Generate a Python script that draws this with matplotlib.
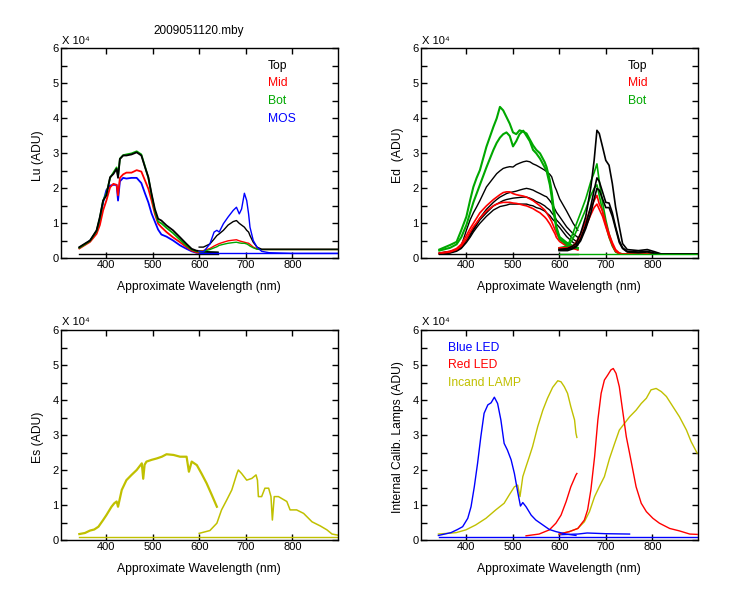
import numpy as np
import matplotlib
matplotlib.use('Agg')
import matplotlib.pyplot as plt
from matplotlib.ticker import MultipleLocator, FixedLocator

plt.rcParams['font.family'] = ['Liberation Sans', 'DejaVu Sans']
plt.rcParams['font.size'] = 8

BLK = 'k'
RED = '#ff0000'
GRN = '#00a800'
BLU = '#0000ff'
YEL = '#c0c000'

# ---- Lu panel (values in 1e4 ADU) ----
lu_wl1 = [343, 355, 366, 380, 387, 394, 401, 409, 416, 423, 426, 430, 437, 444, 455, 466, 476,
          484, 491, 498, 505, 512, 519, 530, 544, 559, 573, 584, 594, 605, 620, 640]
lu_top1 = [0.32, 0.42, 0.51, 0.8, 1.18, 1.65, 1.8, 2.32, 2.41, 2.56, 2.3, 2.84, 2.94, 2.94, 2.97, 3.03, 2.94,
           2.6, 2.32, 1.84, 1.41, 1.13, 1.08, 0.94, 0.8, 0.6, 0.41, 0.27, 0.22, 0.2, 0.18, 0.17]
lu_bot1 = [0.3, 0.4, 0.5, 0.78, 1.15, 1.65, 1.85, 2.3, 2.45, 2.6, 2.35, 2.85, 2.95, 2.97, 3.0, 3.06, 2.97,
           2.62, 2.3, 1.8, 1.35, 1.05, 1.0, 0.87, 0.72, 0.53, 0.36, 0.25, 0.2, 0.18, 0.17, 0.16]
lu_mid1 = [0.28, 0.38, 0.47, 0.7, 0.95, 1.37, 1.65, 2.03, 2.13, 2.1, 1.8, 2.3, 2.4, 2.45, 2.45, 2.52, 2.48,
           2.22, 1.99, 1.65, 1.27, 0.99, 0.89, 0.75, 0.6, 0.46, 0.32, 0.22, 0.17, 0.15, 0.14, 0.14]
lu_mos1 = [0.3, 0.4, 0.5, 0.75, 1.1, 1.6, 1.95, 2.08, 2.1, 2.1, 1.65, 2.2, 2.3, 2.28, 2.3, 2.3, 2.15,
           1.85, 1.6, 1.28, 1.05, 0.82, 0.68, 0.62, 0.51, 0.37, 0.27, 0.2, 0.16, 0.15, 0.14, 0.14]
lu_wl2 = [600, 609, 623, 632, 638, 643, 652, 662, 673, 680, 686, 691, 697, 702, 706, 709, 716, 724,
          734, 750, 774, 800, 850, 897]
lu_mos2 = [0.2, 0.18, 0.41, 0.75, 0.8, 0.75, 0.99, 1.18, 1.37, 1.46, 1.27, 1.41, 1.86, 1.65, 1.27, 0.89,
           0.51, 0.32, 0.2, 0.16, 0.15, 0.14, 0.14, 0.14]
lu_top2 = [0.32, 0.32, 0.41, 0.55, 0.65, 0.7, 0.8, 0.95, 1.05, 1.08, 1.0, 0.95, 0.89, 0.8, 0.75, 0.65,
           0.46, 0.32, 0.26, 0.26, 0.26, 0.26, 0.26, 0.26]
lu_mid2 = [0.2, 0.22, 0.28, 0.35, 0.39, 0.42, 0.46, 0.5, 0.52, 0.53, 0.5, 0.48, 0.46, 0.44, 0.43, 0.4,
           0.32, 0.27, 0.25, 0.25, 0.25, 0.25, 0.25, 0.25]
lu_bot2 = [0.2, 0.2, 0.25, 0.3, 0.33, 0.37, 0.4, 0.43, 0.45, 0.46, 0.44, 0.43, 0.43, 0.41, 0.38, 0.35,
           0.3, 0.26, 0.25, 0.25, 0.25, 0.25, 0.25, 0.25]

# ---- Ed panel ----
ed_wl1 = [343, 366, 380, 390, 401, 409, 416, 423, 430, 444, 459, 466, 473, 480, 487, 494, 501, 508,
          515, 523, 530, 537, 544, 551, 559, 569, 573, 580, 584, 587, 591, 594, 601, 616, 630, 640]
ed_bot1a = [0.25, 0.38, 0.47, 0.8, 1.19, 1.66, 2.04, 2.3, 2.52, 3.19, 3.76, 4.0, 4.33, 4.23, 4.04, 3.85,
            3.6, 3.55, 3.66, 3.62, 3.57, 3.4, 3.23, 3.1, 3.0, 2.75, 2.61, 2.23, 1.9, 1.57, 1.2, 0.9,
            0.61, 0.45, 0.35, 0.3]
ed_bot1b = [0.22, 0.3, 0.4, 0.6, 0.95, 1.3, 1.6, 1.85, 2.1, 2.6, 3.1, 3.3, 3.45, 3.55, 3.6, 3.5,
            3.2, 3.35, 3.55, 3.65, 3.5, 3.35, 3.1, 3.0, 2.85, 2.6, 2.5, 2.1, 1.75, 1.4, 1.1, 0.85,
            0.55, 0.4, 0.32, 0.28]
ed_top1a = [0.15, 0.2, 0.25, 0.35, 0.8, 1.1, 1.3, 1.47, 1.65, 2.04, 2.3, 2.42, 2.5, 2.57, 2.6, 2.62,
            2.61, 2.68, 2.72, 2.76, 2.78, 2.76, 2.7, 2.66, 2.6, 2.52, 2.48, 2.4, 2.33, 2.2, 2.04, 1.95,
            1.7, 1.35, 1.0, 0.8]
ed_top1b = [0.15, 0.18, 0.25, 0.33, 0.55, 0.7, 0.85, 1.0, 1.15, 1.4, 1.6, 1.68, 1.75, 1.8, 1.85, 1.88,
            1.9, 1.92, 1.95, 1.98, 2.0, 1.98, 1.95, 1.9, 1.85, 1.78, 1.76, 1.65, 1.57, 1.5, 1.4, 1.32,
            1.19, 0.9, 0.7, 0.6]
ed_top1c = [0.13, 0.16, 0.22, 0.3, 0.5, 0.65, 0.8, 0.95, 1.1, 1.3, 1.5, 1.55, 1.6, 1.65, 1.68, 1.7,
            1.72, 1.73, 1.74, 1.75, 1.75, 1.72, 1.68, 1.62, 1.58, 1.5, 1.45, 1.38, 1.3, 1.25, 1.18, 1.1,
            1.0, 0.75, 0.55, 0.45]
ed_top1d = [0.12, 0.15, 0.2, 0.28, 0.45, 0.6, 0.75, 0.88, 1.0, 1.2, 1.38, 1.43, 1.48, 1.5, 1.52, 1.55,
            1.55, 1.55, 1.55, 1.55, 1.55, 1.52, 1.5, 1.45, 1.42, 1.35, 1.3, 1.22, 1.15, 1.1, 1.05, 0.98,
            0.88, 0.62, 0.45, 0.38]
ed_mid1a = [0.15, 0.2, 0.28, 0.4, 0.65, 0.85, 1.0, 1.15, 1.3, 1.5, 1.68, 1.75, 1.82, 1.88, 1.9, 1.9,
            1.85, 1.82, 1.8, 1.78, 1.75, 1.7, 1.65, 1.58, 1.5, 1.38, 1.3, 1.15, 1.05, 0.95, 0.82, 0.72,
            0.55, 0.38, 0.3, 0.25]
ed_mid1b = [0.13, 0.18, 0.25, 0.35, 0.55, 0.75, 0.9, 1.02, 1.15, 1.35, 1.5, 1.55, 1.58, 1.6, 1.6, 1.6,
            1.58, 1.57, 1.55, 1.52, 1.5, 1.46, 1.42, 1.36, 1.3, 1.18, 1.12, 0.98, 0.88, 0.8, 0.7, 0.6,
            0.48, 0.35, 0.28, 0.24]
ed_wl2 = [600, 618, 629, 636, 646, 657, 668, 675, 681, 686, 693, 700, 707, 714, 721, 729, 736, 746,
          770, 789, 804, 820, 897]
ed_top2a = [0.25, 0.28, 0.35, 0.42, 0.71, 1.19, 2.04, 2.8, 3.66, 3.57, 3.19, 2.8, 2.66, 2.14, 1.47, 0.9,
            0.42, 0.25, 0.22, 0.25, 0.19, 0.12, 0.12]
ed_top2b = [0.25, 0.25, 0.3, 0.35, 0.55, 0.95, 1.5, 1.95, 2.3, 2.2, 1.9, 1.6, 1.58, 1.3, 0.9, 0.5,
            0.3, 0.2, 0.18, 0.2, 0.15, 0.12, 0.12]
ed_top2c = [0.22, 0.22, 0.27, 0.32, 0.5, 0.85, 1.3, 1.7, 2.0, 1.95, 1.7, 1.45, 1.45, 1.2, 0.85, 0.45,
            0.28, 0.18, 0.16, 0.18, 0.14, 0.12, 0.12]
ed_bot2a = [0.3, 0.35, 0.7, 0.95, 1.3, 1.7, 2.2, 2.45, 2.7, 2.2, 1.6, 1.1, 0.7, 0.4, 0.2, 0.15,
            0.12, 0.12, 0.12, 0.12, 0.12, 0.12, 0.12]
ed_bot2b = [0.25, 0.3, 0.55, 0.75, 1.05, 1.4, 1.8, 2.0, 2.1, 1.8, 1.35, 0.95, 0.6, 0.35, 0.18, 0.13,
            0.12, 0.12, 0.12, 0.12, 0.12, 0.12, 0.12]
ed_mid2a = [0.3, 0.3, 0.35, 0.45, 0.7, 1.05, 1.45, 1.65, 1.8, 1.55, 1.35, 1.0, 0.7, 0.45, 0.25, 0.15,
            0.12, 0.12, 0.12, 0.12, 0.12, 0.12, 0.12]
ed_mid2b = [0.28, 0.28, 0.32, 0.4, 0.6, 0.9, 1.25, 1.45, 1.55, 1.4, 1.2, 0.9, 0.62, 0.38, 0.2, 0.13,
            0.12, 0.12, 0.12, 0.12, 0.12, 0.12, 0.12]

# ---- Es panel ----
es_wl1 = [343, 355, 366, 375, 384, 394, 401, 412, 418, 423, 426, 434, 444, 455, 466, 477, 480, 483,
          487, 498, 509, 520, 530, 545, 559, 573, 578, 584, 595, 605, 616, 627, 638]
es_val1 = [0.17, 0.2, 0.27, 0.3, 0.38, 0.57, 0.71, 0.95, 1.05, 1.1, 0.95, 1.43, 1.71, 1.86, 2.0, 2.19,
           1.75, 2.15, 2.24, 2.29, 2.33, 2.38, 2.45, 2.43, 2.38, 2.38, 1.95, 2.24, 2.14, 1.9, 1.62,
           1.29, 0.95]
es_wl2 = [600, 623, 638, 648, 659, 670, 681, 684, 691, 702, 713, 722, 725, 727, 734, 741, 749, 754,
          757, 761, 770, 788, 795, 809, 824, 842, 860, 874, 885, 897]
es_val2 = [0.19, 0.27, 0.48, 0.86, 1.14, 1.43, 1.9, 2.0, 1.9, 1.71, 1.76, 1.86, 1.71, 1.24, 1.24, 1.48,
           1.48, 1.24, 0.57, 1.24, 1.24, 1.1, 0.86, 0.86, 0.76, 0.52, 0.4, 0.29, 0.17, 0.14]

# ---- internal calibration lamps ----
bled_wl1 = [341, 368, 382, 393, 404, 411, 418, 425, 432, 439, 447, 454, 461, 468, 475, 482, 489, 497,
            504, 511, 517, 522, 529, 540, 550, 565, 579, 593, 615, 636]
bled_val1 = [0.13, 0.21, 0.3, 0.38, 0.62, 0.95, 1.52, 2.19, 2.95, 3.62, 3.86, 3.92, 4.08, 3.9, 3.43,
             2.76, 2.57, 2.29, 1.9, 1.38, 0.97, 1.07, 0.95, 0.71, 0.57, 0.43, 0.3, 0.24, 0.17, 0.13]
bled_wl2 = [600, 640, 660, 700, 751]
bled_val2 = [0.15, 0.17, 0.2, 0.18, 0.17]
rled_wl1 = [529, 557, 579, 593, 604, 615, 625, 636, 638]
rled_val1 = [0.12, 0.17, 0.29, 0.48, 0.71, 1.1, 1.52, 1.86, 1.9]
rled_wl2 = [600, 622, 640, 654, 661, 668, 676, 683, 690, 697, 704, 711, 716, 722, 729, 736, 744, 751,
            758, 765, 776, 787, 801, 815, 837, 858, 880, 896]
rled_val2 = [0.17, 0.24, 0.33, 0.57, 0.86, 1.43, 2.38, 3.43, 4.19, 4.57, 4.71, 4.86, 4.9, 4.76, 4.38,
             3.71, 2.95, 2.48, 2.0, 1.52, 1.05, 0.81, 0.62, 0.48, 0.33, 0.26, 0.17, 0.16]
lamp_wl1 = [341, 379, 400, 421, 443, 464, 482, 493, 504, 511, 516, 522, 529, 536, 543, 554, 565, 575,
            586, 597, 604, 611, 618, 625, 633, 636, 638]
lamp_val1 = [0.17, 0.21, 0.29, 0.43, 0.62, 0.86, 1.05, 1.29, 1.52, 1.57, 1.24, 1.81, 2.1, 2.38, 2.67,
             3.24, 3.71, 4.05, 4.36, 4.55, 4.52, 4.38, 4.19, 3.81, 3.43, 3.05, 2.93]
lamp_wl2 = [600, 622, 640, 654, 665, 676, 686, 697, 708, 719, 729, 740, 751, 765, 776, 787, 797, 808,
            819, 830, 844, 858, 873, 883, 896]
lamp_val2 = [0.17, 0.24, 0.33, 0.52, 0.81, 1.24, 1.52, 1.81, 2.33, 2.76, 3.14, 3.33, 3.52, 3.71, 3.9,
             4.05, 4.29, 4.33, 4.24, 4.1, 3.81, 3.52, 3.14, 2.81, 2.48]

# dark/baseline levels
base_wl1 = [343, 640]
base_wl2 = [600, 897]
base_full = [343, 897]


def setup(ax, ylabel):
    ax.set_xlim(303, 897)
    ax.set_ylim(0, 6)
    ax.xaxis.set_major_locator(FixedLocator([400, 500, 600, 700, 800]))
    ax.yaxis.set_major_locator(MultipleLocator(1))
    ax.yaxis.set_minor_locator(MultipleLocator(0.5))
    ax.tick_params(which='both', direction='in', top=True, right=True, length=4, width=1,
                   pad=1.5, labelsize=8)
    ax.set_xlabel('Approximate Wavelength (nm)', fontsize=8.7)
    ax.set_ylabel(ylabel, fontsize=8.7)
    ax.xaxis.set_label_coords(0.5, -0.108)
    ax.yaxis.set_label_coords(-0.062, 0.49)
    ax.text(0.005, 1.012, 'X 10\u2074', transform=ax.transAxes, ha='left', va='bottom', fontsize=8)
    for s in ax.spines.values():
        s.set_linewidth(1)


fig = plt.figure(figsize=(7.5, 6), dpi=100)
ax1 = fig.add_axes([0.0809, 0.5695, 0.3693, 0.3497])
ax2 = fig.add_axes([0.5609, 0.5695, 0.3693, 0.3497])
ax3 = fig.add_axes([0.0809, 0.1, 0.3693, 0.35])
ax4 = fig.add_axes([0.5609, 0.1, 0.3693, 0.35])

# Lu
ax1.plot(lu_wl1, lu_mos1, color=BLU, lw=1.3)
ax1.plot(lu_wl1, lu_mid1, color=RED, lw=1.3)
ax1.plot(lu_wl1, lu_bot1, color=GRN, lw=1.3)
ax1.plot(lu_wl1, lu_top1, color=BLK, lw=1.3)
ax1.plot(lu_wl2, lu_mid2, color=RED, lw=1.0)
ax1.plot(lu_wl2, lu_bot2, color=GRN, lw=1.0)
ax1.plot(lu_wl2, lu_top2, color=BLK, lw=1.0)
ax1.plot(lu_wl2, lu_mos2, color=BLU, lw=1.0)
ax1.plot(base_wl1, [0.12, 0.12], color=BLK, lw=1.0)
ax1.plot(base_wl2, [0.14, 0.14], color=BLU, lw=1.0)
setup(ax1, 'Lu (ADU)')
ax1.set_title('2009051120.mby', fontsize=8.5, pad=10.5)
for i, (t, c) in enumerate([('Top', BLK), ('Mid', RED), ('Bot', GRN), ('MOS', BLU)]):
    ax1.text(0.748, 0.918 - i * 0.084, t, color=c, transform=ax1.transAxes, va='center', fontsize=8.7)

# Ed
for v in [ed_top1a, ed_top1b, ed_top1c, ed_top1d]:
    ax2.plot(ed_wl1, v, color=BLK, lw=1.0)
for v in [ed_mid1a, ed_mid1b]:
    ax2.plot(ed_wl1, v, color=RED, lw=1.2)
for v in [ed_bot1a, ed_bot1b]:
    ax2.plot(ed_wl1, v, color=GRN, lw=1.5)
for v in [ed_bot2a, ed_bot2b]:
    ax2.plot(ed_wl2, v, color=GRN, lw=1.2)
for v in [ed_mid2a, ed_mid2b]:
    ax2.plot(ed_wl2, v, color=RED, lw=1.2)
for v in [ed_top2a, ed_top2b, ed_top2c]:
    ax2.plot(ed_wl2, v, color=BLK, lw=1.2)
ax2.plot(base_wl1, [0.12, 0.12], color=BLK, lw=1.0)
ax2.plot(base_wl2, [0.12, 0.12], color=GRN, lw=1.0)
setup(ax2, 'Ed  (ADU)')
for i, (t, c) in enumerate([('Top', BLK), ('Mid', RED), ('Bot', GRN)]):
    ax2.text(0.748, 0.918 - i * 0.084, t, color=c, transform=ax2.transAxes, va='center', fontsize=8.7)

# Es
ax3.plot(es_wl1, es_val1, color=YEL, lw=1.6)
ax3.plot(es_wl2, es_val2, color=YEL, lw=1.1)
ax3.plot(base_full, [0.1, 0.1], color=YEL, lw=1.0)
setup(ax3, 'Es (ADU)')

# internal lamps
ax4.plot(base_full, [0.1, 0.1], color=BLU, lw=1.0)
ax4.plot(bled_wl2, bled_val2, color=BLU, lw=1.0)
ax4.plot(lamp_wl1, lamp_val1, color=YEL, lw=1.0)
ax4.plot(lamp_wl2, lamp_val2, color=YEL, lw=1.0)
ax4.plot(rled_wl1, rled_val1, color=RED, lw=1.0)
ax4.plot(rled_wl2, rled_val2, color=RED, lw=1.0)
ax4.plot(bled_wl1, bled_val1, color=BLU, lw=1.0)
setup(ax4, 'Internal Calib. Lamps (ADU)')
for i, (t, c) in enumerate([('Blue LED', BLU), ('Red LED', RED), ('Incand LAMP', YEL)]):
    ax4.text(0.097, 0.916 - i * 0.083, t, color=c, transform=ax4.transAxes, va='center', fontsize=8.7)

fig.savefig('out.png', dpi=100)
